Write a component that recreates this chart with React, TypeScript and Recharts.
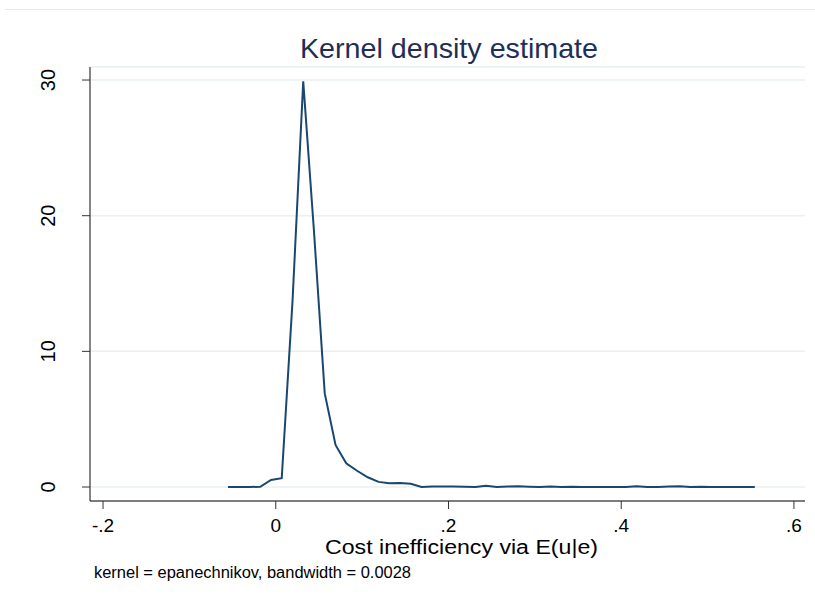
import { LineChart, Line, XAxis, YAxis, CartesianGrid } from 'recharts'

// evaluation points of the kernel density
const gridX = [
  -0.0553, -0.0429, -0.0304, -0.018, -0.0055, 0.0069, 0.0194, 0.0318, 0.0443, 0.0567,
  0.0692, 0.0816, 0.0941, 0.1065, 0.119, 0.1314, 0.1439, 0.1563, 0.1688, 0.1812,
  0.1937, 0.2061, 0.2186, 0.231, 0.2435, 0.2559, 0.2684, 0.2808, 0.2933, 0.3057,
  0.3182, 0.3306, 0.3431, 0.3555, 0.368, 0.3804, 0.3929, 0.4053, 0.4178, 0.4302,
  0.4427, 0.4551, 0.4676, 0.48, 0.4925, 0.5049, 0.5174, 0.5298, 0.5423, 0.5547,
]

const densityValues = [
  0.01, 0, 0, 0.02, 0.52, 0.65, 13.7, 29.9, 18.8, 6.9,
  3.1, 1.75, 1.2, 0.72, 0.38, 0.27, 0.3, 0.24, 0.01, 0.03,
  0.03, 0.03, 0.02, 0, 0.1, 0, 0.03, 0.05, 0.02, 0,
  0.03, 0, 0.02, 0.01, 0, 0.01, 0.01, 0, 0.05, 0.01,
  0, 0.03, 0.06, 0, 0.02, 0, 0, 0, 0, 0.01,
]

const xTicks = [-0.2, 0, 0.2, 0.4, 0.6]
const xTickLabels = ['-.2', '0', '.2', '.4', '.6']
const yTicks = [0, 10, 20, 30]

const chartTitle = 'Kernel density estimate'
const xTitle = 'Cost inefficiency via E(u|e)'
const note = 'kernel = epanechnikov, bandwidth = 0.0028'

const data = gridX.map((x, i) => ({ x, density: densityValues[i] }))

const FONT = '"Liberation Sans", Arial, Helvetica, sans-serif'

const XTick = (props: any) => {
  const { x, payload } = props
  const idx = xTicks.indexOf(payload.value)
  return (
    <text x={x} y={532} textAnchor="middle" fontSize={19} fontFamily={FONT} fill="#000">
      {idx >= 0 ? xTickLabels[idx] : payload.value}
    </text>
  )
}

const YTick = (props: any) => {
  const { y, payload } = props
  return (
    <text
      x={55}
      y={y}
      transform={`rotate(-90 55 ${y})`}
      textAnchor="middle"
      fontSize={20}
      fontFamily={FONT}
      fill="#000"
    >
      {payload.value}
    </text>
  )
}

export default function App() {
  return (
    <div style={{ position: 'absolute', left: 0, top: 0, width: 815, height: 601, background: '#fff' }}>
      <LineChart width={815} height={601} data={data} margin={{ top: 67, right: 10, bottom: 60, left: 30 }}>
        <CartesianGrid vertical={false} stroke="#e8f0f2" strokeWidth={1.5} />
        <XAxis
          dataKey="x"
          type="number"
          domain={[-0.2151, 0.6128]}
          ticks={xTicks}
          allowDataOverflow
          height={40}
          tickSize={8}
          tick={<XTick />}
          axisLine={{ stroke: '#555', strokeWidth: 1.5 }}
          tickLine={{ stroke: '#333' }}
        />
        <YAxis
          type="number"
          domain={[-1.03, 30.96]}
          ticks={yTicks}
          allowDataOverflow
          width={60}
          tickSize={8}
          tick={<YTick />}
          axisLine={{ stroke: '#333', strokeWidth: 1.2 }}
          tickLine={{ stroke: '#333' }}
        />
        <Line
          type="linear"
          dataKey="density"
          stroke="#1a476f"
          strokeWidth={2}
          dot={false}
          isAnimationActive={false}
        />
      </LineChart>
      <svg
        width={815}
        height={601}
        style={{ position: 'absolute', left: 0, top: 0, pointerEvents: 'none' }}
      >
        <line x1={5} x2={815} y1={9.5} y2={9.5} stroke="#e6ebee" strokeWidth={1} />
        <text
          x={300}
          y={58}
          fontSize={28}
          fontFamily={FONT}
          fill="#1f2e57"
          textLength={298}
          lengthAdjust="spacingAndGlyphs"
        >
          {chartTitle}
        </text>
        <text
          x={325}
          y={554}
          fontSize={20}
          fontFamily={FONT}
          fill="#000"
          textLength={273}
          lengthAdjust="spacingAndGlyphs"
        >
          {xTitle}
        </text>
        <text
          x={94}
          y={578}
          fontSize={16}
          fontFamily={FONT}
          fill="#000"
          textLength={317}
          lengthAdjust="spacingAndGlyphs"
        >
          {note}
        </text>
      </svg>
    </div>
  )
}
